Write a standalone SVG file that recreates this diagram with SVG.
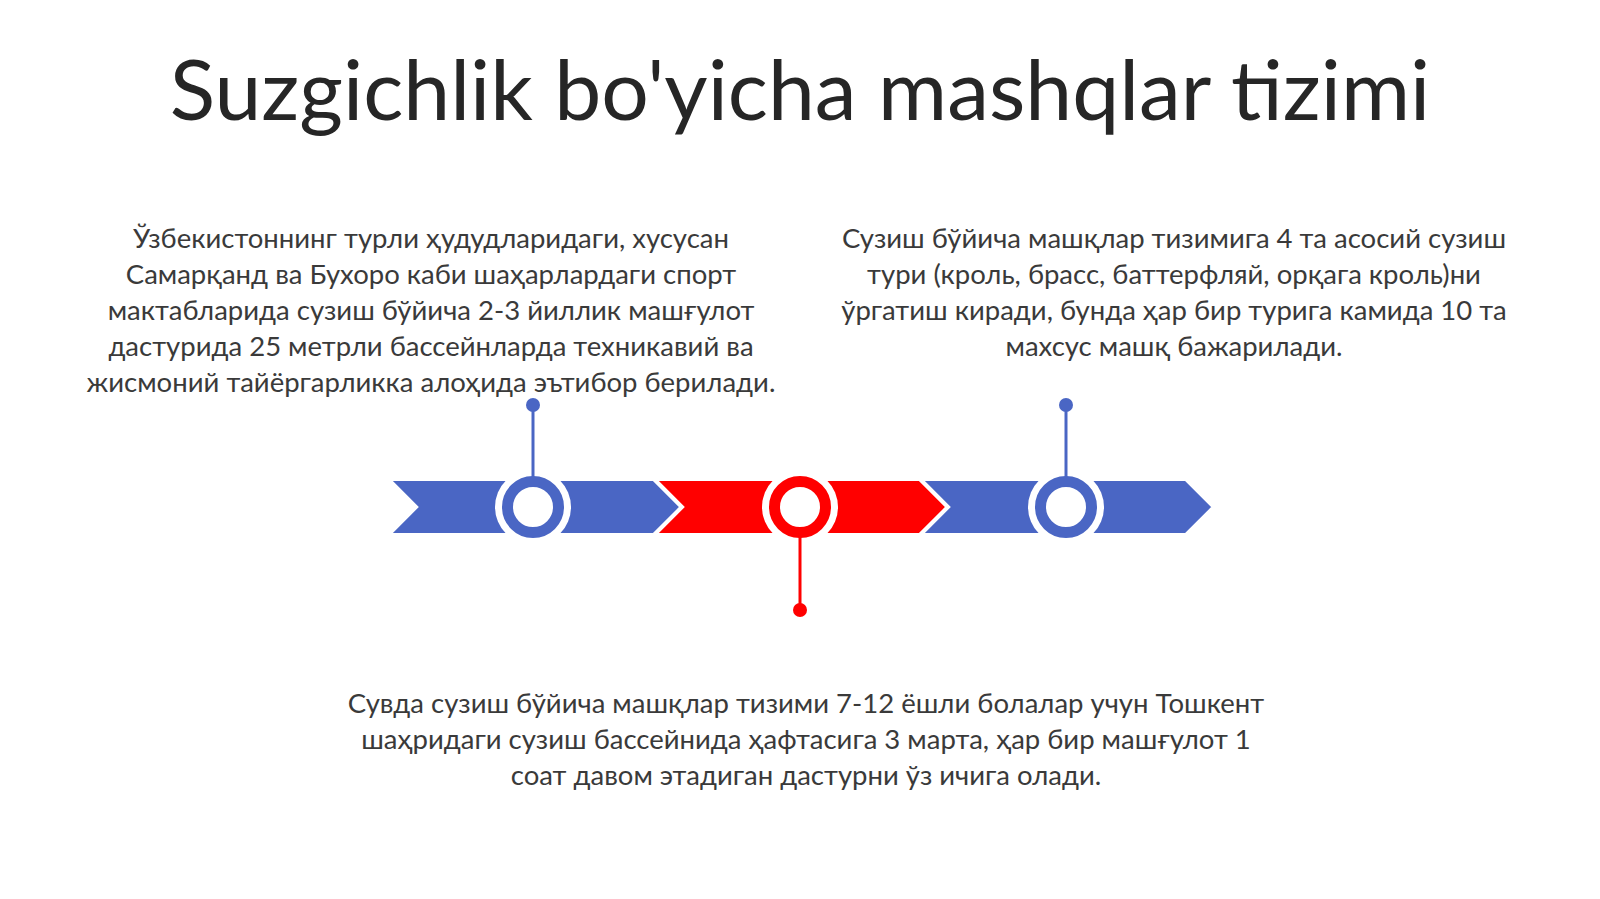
<svg xmlns="http://www.w3.org/2000/svg" width="1600" height="899" viewBox="0 0 1600 899">
<style>
.title{font-family:Lato,"Open Sans","DejaVu Sans",sans-serif;font-size:84px;fill:#262626;text-anchor:middle}
.body{font-family:Lato,"Open Sans","DejaVu Sans",sans-serif;font-size:27.5px;fill:#3a3a3a;text-anchor:middle}
.blue{fill:#4a66c4}
.red{fill:#ff0000}
.chev{stroke:#ffffff;stroke-width:4;stroke-linejoin:miter}
.halo{fill:#ffffff}
.ringb{fill:#ffffff;stroke:#4a66c4;stroke-width:11}
.ringr{fill:#ffffff;stroke:#ff0000;stroke-width:11}
.pinb{stroke:#4a66c4;stroke-width:3}
.pinr{stroke:#ff0000;stroke-width:3}
</style>
<rect width="1600" height="899" fill="#ffffff"/>
<text class="title" x="800" y="120">Suzgichlik bo'yicha mashqlar tizimi</text>

<g id="text-left">
<text class="body" x="431" y="248">Ўзбекистоннинг турли ҳудудларидаги, хусусан</text>
<text class="body" x="431" y="284">Самарқанд ва Бухоро каби шаҳарлардаги спорт</text>
<text class="body" x="431" y="320">мактабларида сузиш бўйича 2-3 йиллик машғулот</text>
<text class="body" x="431" y="356">дастурида 25 метрли бассейнларда техникавий ва</text>
<text class="body" x="431" y="392">жисмоний тайёргарликка алоҳида эътибор берилади.</text>
</g>
<g id="text-right">
<text class="body" x="1174" y="248">Сузиш бўйича машқлар тизимига 4 та асосий сузиш</text>
<text class="body" x="1174" y="284">тури (кроль, брасс, баттерфляй, орқага кроль)ни</text>
<text class="body" x="1174" y="320">ўргатиш киради, бунда ҳар бир турига камида 10 та</text>
<text class="body" x="1174" y="356">махсус машқ бажарилади.</text>
</g>
<g id="text-bottom">
<text class="body" x="806" y="713">Сувда сузиш бўйича машқлар тизими 7-12 ёшли болалар учун Тошкент</text>
<text class="body" x="806" y="749">шаҳридаги сузиш бассейнида ҳафтасига 3 марта, ҳар бир машғулот 1</text>
<text class="body" x="806" y="785">соат давом этадиган дастурни ўз ичига олади.</text>
</g>

<g id="chevron-1">
<polygon class="blue chev" points="388,479 654,479 682,507 654,535 388,535 416,507"/>
</g>
<g id="chevron-2">
<polygon class="red chev" points="654,479 920,479 948,507 920,535 654,535 682,507"/>
</g>
<g id="chevron-3">
<polygon class="blue chev" points="920,479 1186,479 1214,507 1186,535 920,535 948,507"/>
</g>

<g id="node-1">
<circle class="halo" cx="533" cy="507" r="38"/>
<circle class="ringb" cx="533" cy="507" r="25.5"/>
<circle class="blue" cx="533" cy="405" r="7"/>
</g>
<g id="node-2">
<circle class="halo" cx="800" cy="507" r="38"/>
<circle class="ringr" cx="800" cy="507" r="25.5"/>
<circle class="red" cx="800" cy="610" r="7"/>
</g>
<g id="node-3">
<circle class="halo" cx="1066" cy="507" r="38"/>
<circle class="ringb" cx="1066" cy="507" r="25.5"/>
<circle class="blue" cx="1066" cy="405" r="7"/>
</g>

<g id="connectors">
<line class="pinb" x1="533" y1="405" x2="533" y2="477"/>
<line class="pinr" x1="800" y1="537" x2="800" y2="610"/>
<line class="pinb" x1="1066" y1="405" x2="1066" y2="477"/>
</g>
</svg>
